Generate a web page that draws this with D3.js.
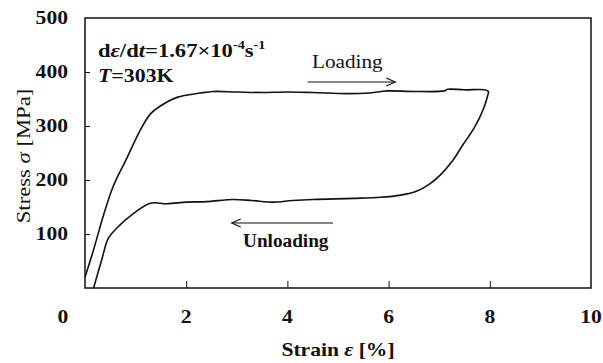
<!DOCTYPE html>
<html>
<head>
<meta charset="utf-8">
<script src="https://cdn.jsdelivr.net/npm/d3@7"></script>
<style>
  body { margin: 0; background: #fff; }
  text { font-family: "Liberation Serif", "Times New Roman", serif; fill: #111; }
</style>
</head>
<body>
<div id="app"></div>
<script>
// data (strain %, stress MPa)
const loadStrain = [0, 0.17, 0.36, 0.56, 0.83, 1.09, 1.29, 1.49, 1.82, 2.28, 2.53, 3.0, 3.5, 4.0, 4.5, 5.19, 5.6, 5.98, 6.5, 7.1, 7.17, 7.5, 7.9, 7.98];
const loadStress = [20, 71, 133, 189, 241, 292, 322, 337, 353, 361, 364, 363, 362, 363, 362, 360, 361, 365, 364, 365, 368, 367, 367, 364];
const unloadStrain = [7.98, 7.88, 7.7, 7.46, 7.26, 7.03, 6.8, 6.55, 6.24, 5.84, 5.3, 4.51, 4.1, 3.72, 3.3, 2.93, 2.4, 2.01, 1.62, 1.29, 0.96, 0.63, 0.46, 0.33, 0.17];
const unloadStress = [364, 333, 298, 264, 235, 210, 192, 179, 172, 168, 166, 164, 162, 159, 162, 164, 160, 159, 156, 157, 138, 111, 92, 52, 0];
const xTicks = [2, 4, 6, 8, 10];
const yTicks = [100, 200, 300, 400, 500];

// sizing
const width = 603;
const height = 363;
const margin = {left: 85, right: 12, top: 18, bottom: 75};

const svg = d3.select("#app")
  .append("svg")
    .attr("width", width)
    .attr("height", height);

const x = d3.scaleLinear().domain([0, 10]).range([margin.left, width - margin.right]);
const y = d3.scaleLinear().domain([0, 500]).range([height - margin.bottom, margin.top]);

// text helper with a horizontal stretch (the scan is wider than tall)
function label(px, py, anchor, size, weight, sx) {
  return svg.append("text")
    .attr("transform", `translate(${px},${py}) scale(${sx || 1.2},1)`)
    .attr("text-anchor", anchor)
    .style("font-size", size + "px")
    .style("font-weight", weight);
}

// frame
svg.append("rect")
  .attr("x", x(0)).attr("y", y(500))
  .attr("width", x(10) - x(0)).attr("height", y(0) - y(500))
  .attr("fill", "none").attr("stroke", "#111").attr("stroke-width", 1.5);

// x axis, ticks inside
const xAxis = svg.append("g")
  .attr("transform", "translate(0," + y(0) + ")")
  .call(d3.axisBottom(x).tickValues(xTicks.filter(d => d < 10)).tickSizeInner(-7).tickSizeOuter(0).tickFormat(""));
xAxis.select(".domain").remove();
xAxis.selectAll(".tick line").attr("stroke", "#111");

xTicks.concat([0]).forEach(function(t) {
  label(t === 0 ? x(0) - 22 : x(t), y(0) + 35, "middle", 18, "bold").text(t);
});

// y axis, ticks inside
const yAxis = svg.append("g")
  .attr("transform", "translate(" + x(0) + ",0)")
  .call(d3.axisLeft(y).tickValues(yTicks.filter(d => d < 500)).tickSizeInner(-5).tickSizeOuter(0).tickFormat(""));
yAxis.select(".domain").remove();
yAxis.selectAll(".tick line").attr("stroke", "#111");

yTicks.forEach(function(t) {
  label(x(0) - 17, y(t) + 6, "end", 18, "bold").text(t);
});

// axis titles
label((x(0) + x(10)) / 2, 356, "middle", 18, "bold")
  .html('Strain <tspan font-style="italic">ε</tspan> [%]');

svg.append("text")
  .attr("transform", "translate(30," + ((y(0) + y(500)) / 2 + 3) + ") rotate(-90) scale(1.26,1.1)")
  .attr("text-anchor", "middle")
  .style("font-size", "18px")
  .html('Stress <tspan font-style="italic">σ</tspan> [MPa]');

// curves
const line = d3.line()
  .x(d => x(d[0]))
  .y(d => y(d[1]))
  .curve(d3.curveCatmullRom.alpha(0.5));

const loadPts = loadStrain.map((s, i) => [s, loadStress[i]]);
const unloadPts = unloadStrain.map((s, i) => [s, unloadStress[i]]);

[loadPts, unloadPts].forEach(function(pts) {
  svg.append("path")
    .datum(pts)
    .attr("d", line)
    .attr("fill", "none")
    .attr("stroke", "#111")
    .attr("stroke-width", 1.6);
});

// annotations
label(98, 57, "start", 19, "bold", 1.19)
  .html('d<tspan font-style="italic">ε</tspan>/d<tspan font-style="italic">t</tspan>=1.67×10<tspan dy="-8" font-size="12px">-4</tspan><tspan dy="8">s</tspan><tspan dy="-8" font-size="12px">-1</tspan>');

label(98, 82, "start", 19, "bold", 1.15)
  .html('<tspan font-style="italic">T</tspan>=303K');

label(312, 68, "start", 18, "normal", 1.18).text("Loading");

label(243, 247, "start", 18.5, "bold", 1.04).text("Unloading");

// arrows
function arrow(x1, x2, yy) {
  const dir = x2 > x1 ? 1 : -1;
  svg.append("line")
    .attr("x1", x1).attr("x2", x2).attr("y1", yy).attr("y2", yy)
    .attr("stroke", "#111").attr("stroke-width", 1.2);
  svg.append("path")
    .attr("d", `M${x2 - dir * 9},${yy - 4} L${x2},${yy} L${x2 - dir * 9},${yy + 4}`)
    .attr("fill", "none").attr("stroke", "#111").attr("stroke-width", 1.2);
}
arrow(x(4.4), x(6.13), 82);
arrow(x(4.9), x(2.9), 223);
</script>
</body>
</html>
